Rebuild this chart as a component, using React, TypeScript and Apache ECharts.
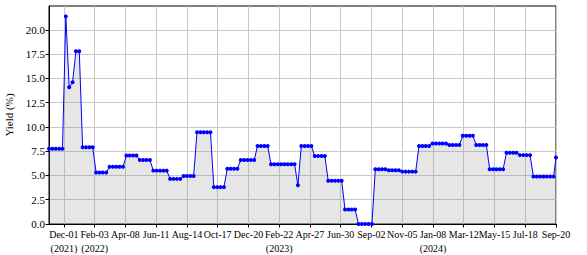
import React, { useEffect, useRef } from "react";
import * as echarts from "echarts";

const dates: string[] = [
  "2021-10-31", "2021-11-07", "2021-11-14", "2021-11-21", "2021-11-28",
  "2021-12-05", "2021-12-12", "2021-12-19", "2021-12-26",
  "2022-01-02", "2022-01-09", "2022-01-16", "2022-01-23", "2022-01-30",
  "2022-02-06", "2022-02-13", "2022-02-20", "2022-02-27",
  "2022-03-06", "2022-03-13", "2022-03-20", "2022-03-27",
  "2022-04-03", "2022-04-10", "2022-04-17", "2022-04-24",
  "2022-05-01", "2022-05-08", "2022-05-15", "2022-05-22", "2022-05-29",
  "2022-06-05", "2022-06-12", "2022-06-19", "2022-06-26",
  "2022-07-03", "2022-07-10", "2022-07-17", "2022-07-24", "2022-07-31",
  "2022-08-07", "2022-08-14", "2022-08-21", "2022-08-28",
  "2022-09-04", "2022-09-11", "2022-09-18", "2022-09-25",
  "2022-10-02", "2022-10-09", "2022-10-16", "2022-10-23", "2022-10-30",
  "2022-11-06", "2022-11-13", "2022-11-20", "2022-11-27",
  "2022-12-04", "2022-12-11", "2022-12-18", "2022-12-25",
  "2023-01-01", "2023-01-08", "2023-01-15", "2023-01-22", "2023-01-29",
  "2023-02-05", "2023-02-12", "2023-02-19", "2023-02-26",
  "2023-03-05", "2023-03-12", "2023-03-19", "2023-03-26",
  "2023-04-02", "2023-04-09", "2023-04-16", "2023-04-23", "2023-04-30",
  "2023-05-07", "2023-05-14", "2023-05-21", "2023-05-28",
  "2023-06-04", "2023-06-11", "2023-06-18", "2023-06-25",
  "2023-07-02", "2023-07-09", "2023-07-16", "2023-07-23", "2023-07-30",
  "2023-08-06", "2023-08-13", "2023-08-20", "2023-08-27",
  "2023-09-03", "2023-09-10", "2023-09-17", "2023-09-24",
  "2023-10-01", "2023-10-08", "2023-10-15", "2023-10-22", "2023-10-29",
  "2023-11-05", "2023-11-12", "2023-11-19", "2023-11-26",
  "2023-12-03", "2023-12-10", "2023-12-17", "2023-12-24", "2023-12-31",
  "2024-01-07", "2024-01-14", "2024-01-21", "2024-01-28",
  "2024-02-04", "2024-02-11", "2024-02-18", "2024-02-25",
  "2024-03-03", "2024-03-10", "2024-03-17", "2024-03-24", "2024-03-31",
  "2024-04-07", "2024-04-14", "2024-04-21", "2024-04-28",
  "2024-05-05", "2024-05-12", "2024-05-19", "2024-05-26",
  "2024-06-02", "2024-06-09", "2024-06-16", "2024-06-23", "2024-06-30",
  "2024-07-07", "2024-07-14", "2024-07-21", "2024-07-28",
  "2024-08-04", "2024-08-11", "2024-08-18", "2024-08-25",
  "2024-09-01", "2024-09-08", "2024-09-15", "2024-09-20",
];

const yields: number[] = [
  7.75, 7.75, 7.75, 7.75, 7.75,
  21.4, 14.1, 14.6, 17.8,
  17.8, 7.9, 7.9, 7.9, 7.9,
  5.3, 5.3, 5.3, 5.3,
  5.9, 5.9, 5.9, 5.9,
  5.9, 7.05, 7.05, 7.05,
  7.05, 6.6, 6.6, 6.6, 6.6,
  5.5, 5.5, 5.5, 5.5,
  5.5, 4.65, 4.65, 4.65, 4.65,
  4.95, 4.95, 4.95, 4.95,
  9.45, 9.45, 9.45, 9.45,
  9.45, 3.8, 3.8, 3.8, 3.8,
  5.7, 5.7, 5.7, 5.7,
  6.6, 6.6, 6.6, 6.6,
  6.6, 8.05, 8.05, 8.05, 8.05,
  6.15, 6.15, 6.15, 6.15,
  6.15, 6.15, 6.15, 6.15,
  4.0, 8.05, 8.05, 8.05, 8.05,
  7.0, 7.0, 7.0, 7.0,
  4.45, 4.45, 4.45, 4.45,
  4.45, 1.5, 1.5, 1.5, 1.5,
  0.0, 0.0, 0.0, 0.0,
  0.0, 5.65, 5.65, 5.65,
  5.65, 5.55, 5.55, 5.55, 5.55,
  5.4, 5.4, 5.4, 5.4,
  5.4, 8.05, 8.05, 8.05, 8.05,
  8.3, 8.3, 8.3, 8.3,
  8.3, 8.15, 8.15, 8.15,
  8.15, 9.1, 9.1, 9.1, 9.1,
  8.15, 8.15, 8.15, 8.15,
  5.65, 5.65, 5.65, 5.65,
  5.65, 7.35, 7.35, 7.35, 7.35,
  7.1, 7.1, 7.1, 7.1,
  4.9, 4.9, 4.9, 4.9,
  4.9, 4.9, 4.9, 6.85,
];

const tickDates: string[] = [
  "2021-12-01", "2022-02-03", "2022-04-08", "2022-06-11", "2022-08-14",
  "2022-10-17", "2022-12-20", "2023-02-22", "2023-04-27", "2023-06-30",
  "2023-09-02", "2023-11-05", "2024-01-08", "2024-03-12", "2024-05-15",
  "2024-07-18", "2024-09-20",
];

const tickLabels: string[] = [
  "Dec-01\n(2021)", "Feb-03\n(2022)", "Apr-08", "Jun-11", "Aug-14",
  "Oct-17", "Dec-20", "Feb-22\n(2023)", "Apr-27", "Jun-30",
  "Sep-02", "Nov-05", "Jan-08\n(2024)", "Mar-12", "May-15",
  "Jul-18", "Sep-20",
];

const yTicks: number[] = [0, 2.5, 5, 7.5, 10, 12.5, 15, 17.5, 20];
const yMax = 22.47;
const xStart = "2021-10-31";
const xEnd = "2024-09-20";
const yName = "Yield (%)";

function toTs(s: string): number {
  const [y, m, d] = s.split("-").map(Number);
  return Date.UTC(y, m - 1, d);
}

const FONT = "Liberation Serif";

export default function App() {
  const ref = useRef<HTMLDivElement>(null);
  useEffect(() => {
    if (!ref.current) return;
    const chart = echarts.init(ref.current, undefined, { renderer: "svg" });
    const tickTs = tickDates.map(toTs);
    const option: any = {
      animation: false,
      backgroundColor: "#ffffff",
      textStyle: { fontFamily: FONT },
      grid: {
        left: 49,
        right: 31,
        top: 6,
        bottom: 31,
        containLabel: false,
        outerBoundsMode: "none",
        show: true,
        borderColor: "#000000",
        borderWidth: 1,
        backgroundColor: "transparent",
      },
      xAxis: {
        type: "value",
        min: toTs(xStart),
        max: toTs(xEnd),
        axisLine: { show: true, lineStyle: { color: "#000", width: 1 } },
        axisTick: {
          show: true,
          length: 3.5,
          lineStyle: { color: "#000", width: 1 },
          customValues: tickTs,
        },
        axisLabel: {
          customValues: tickTs,
          hideOverlap: false,
          showMinLabel: true,
          showMaxLabel: true,
          margin: 3,
          color: "#000",
          fontFamily: FONT,
          fontSize: 10,
          lineHeight: 14,
          formatter: (v: number) => {
            let best = -1;
            let bd = Infinity;
            tickTs.forEach((t, i) => {
              const d = Math.abs(t - v);
              if (d < bd) { bd = d; best = i; }
            });
            if (bd >= 86400000) return "";
            return tickLabels[best]
              .split("\n")
              .map((s) => "{s|" + s + "}")
              .join("\n");
          },
          rich: {
            s: { fontFamily: FONT, fontSize: 10, lineHeight: 14, color: "#000" },
          },
        },
        splitLine: { show: true, lineStyle: { color: "#c8c8c8", width: 1 } },
      },
      yAxis: {
        type: "value",
        min: 0,
        max: yMax,
        name: "{n|" + yName + "}",
        nameLocation: "middle",
        nameGap: 26,
        nameTextStyle: {
          color: "#000",
          fontFamily: FONT,
          fontSize: 11,
          rich: { n: { fontFamily: FONT, fontSize: 11, color: "#000" } },
        },
        axisLine: { show: true, lineStyle: { color: "#000", width: 1 } },
        axisTick: {
          show: true,
          length: 3.5,
          lineStyle: { color: "#000", width: 1 },
          customValues: yTicks,
        },
        axisLabel: {
          customValues: yTicks,
          margin: 4,
          color: "#000",
          fontFamily: FONT,
          fontSize: 11,
          formatter: (v: number) => "{s|" + v.toFixed(1) + "}",
          rich: { s: { fontFamily: FONT, fontSize: 11, color: "#000" } },
        },
        splitLine: { show: true, lineStyle: { color: "#c8c8c8", width: 1 } },
      },
      series: [
        {
          type: "line",
          data: dates.map((d, i) => [toTs(d), yields[i]]),
          symbol: "circle",
          symbolSize: 4,
          showSymbol: true,
          showAllSymbol: true,
          itemStyle: { color: "#0000ff" },
          lineStyle: { color: "#0000ff", width: 1 },
          areaStyle: { color: "rgba(128,128,128,0.2)", opacity: 1 },
          emphasis: { disabled: true },
        },
      ],
    };
    chart.setOption(option);
    return () => chart.dispose();
  }, []);
  return (
    <div
      ref={ref}
      style={{ position: "fixed", left: 0, top: 0, width: 587, height: 255 }}
    />
  );
}
